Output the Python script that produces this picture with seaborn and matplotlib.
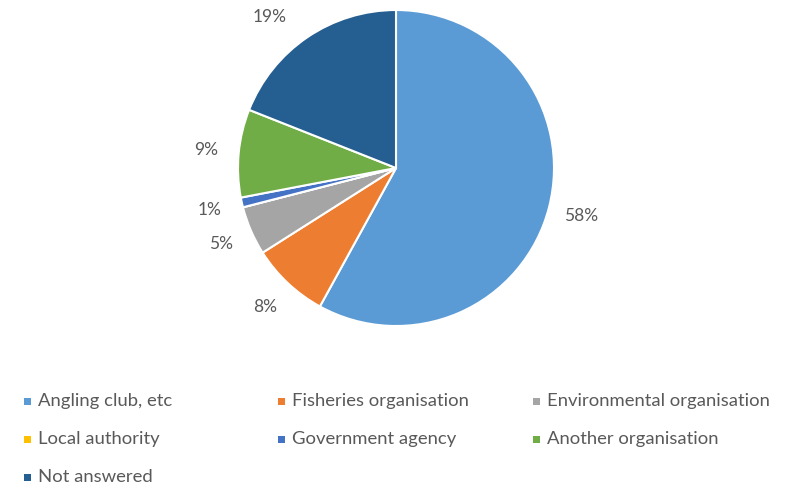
import matplotlib
matplotlib.use("Agg")
import matplotlib.pyplot as plt
from matplotlib.patches import Rectangle
import seaborn as sns

categories = ["Angling club, etc", "Fisheries organisation", "Environmental organisation",
              "Local authority", "Government agency", "Another organisation", "Not answered"]
shares = [58, 8, 5, 0, 1, 9, 19]
colors = ["#5B9BD5", "#ED7D31", "#A5A5A5", "#FFC000", "#4472C4", "#70AD47", "#255E91"]

sns.set_theme(style="white")
plt.rcParams["font.family"] = ["Lato", "DejaVu Sans"]
text_color = "#595959"

W, H = 791, 493
fig = plt.figure(figsize=(W / 100, H / 100), dpi=100)
fig.patch.set_facecolor("white")

# pie axes: centre (396, 168) px, radius 158 px
cx, cy, r = 396, 168, 158
ax = fig.add_axes([(cx - r) / W, (H - cy - r) / H, 2 * r / W, 2 * r / H])

labels = [f"{v}%" if v > 0 else "" for v in shares]
wedges, texts = ax.pie(
    shares, colors=colors, startangle=90, counterclock=False, radius=1,
    labels=labels, labeldistance=1.21,
    wedgeprops=dict(edgecolor="white", linewidth=1.5),
    textprops=dict(color=text_color, fontsize=12.5),
)
for t in texts:
    t.set_ha("center")
    t.set_va("center")
# the top label sits beside the pie rather than above it
texts[-1].set_position((-0.80, 0.955))
ax.set_xlim(-1, 1)
ax.set_ylim(-1, 1)
ax.set_aspect("equal")
ax.axis("off")

# legend laid out in rows of three
col_x = [24, 278, 533]
row_y = [401, 439, 477]
for i, (name, col) in enumerate(zip(categories, colors)):
    x = col_x[i % 3]
    y = row_y[i // 3]
    fig.patches.append(Rectangle(((x) / W, (H - y - 3.5) / H), 7 / W, 7 / H,
                                 transform=fig.transFigure, facecolor=col,
                                 edgecolor="none"))
    fig.text((x + 14) / W, (H - y) / H, name, color=text_color, fontsize=13.3,
             ha="left", va="center")

fig.savefig("out.png", dpi=100, facecolor="white")
